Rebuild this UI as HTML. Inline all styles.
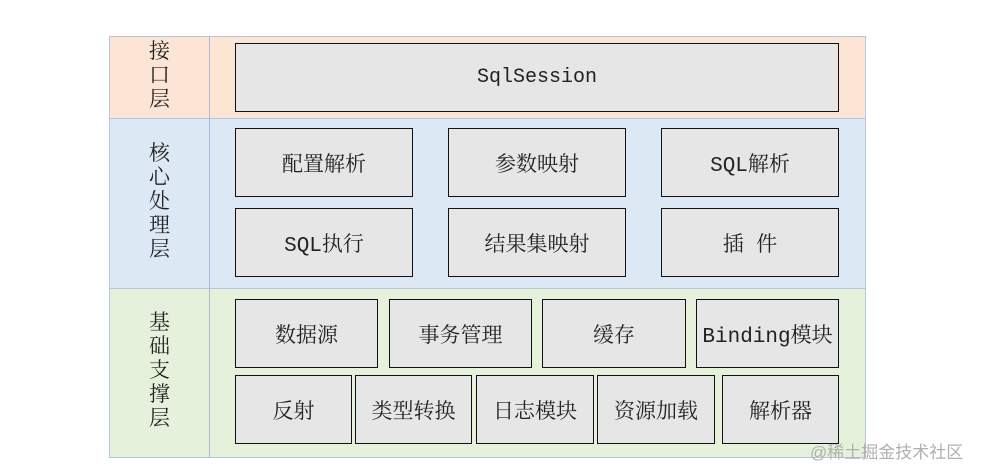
<!DOCTYPE html>
<html><head><meta charset="utf-8"><style>
body{margin:0;width:986px;height:476px;background:#fff;position:relative;overflow:hidden;font-family:"Liberation Mono","Noto Serif CJK SC",monospace;}
div{position:absolute;box-sizing:border-box;}
.b{background:#e6e6e6;border:1.5px solid #111;display:flex;align-items:center;justify-content:center;font-size:21px;color:#222;}
.l{display:flex;align-items:center;justify-content:center;font-size:21px;line-height:24px;color:#222;text-align:center;}
</style></head><body>
<div style="left:109px;top:36px;width:757px;height:83px;background:#fde5d5;border:1px solid #b8c6dc;"></div>
<div style="left:109px;top:118px;width:757px;height:171px;background:#dde8f5;border:1px solid #b8c6dc;"></div>
<div style="left:109px;top:288px;width:757px;height:170px;background:#e6f1dc;border:1px solid #b8c6dc;"></div>
<div style="left:209px;top:36px;width:1px;height:422px;background:#a9bbd8;"></div>
<div class="l" style="left:110px;top:37px;width:99px;height:81px;">接<br>口<br>层</div>
<div class="l" style="left:110px;top:119px;width:99px;height:169px;">核<br>心<br>处<br>理<br>层</div>
<div class="l" style="left:110px;top:289px;width:99px;height:168px;">基<br>础<br>支<br>撑<br>层</div>
<div class="b" style="left:235px;top:43px;width:604px;height:69px;font-size:20px;">SqlSession</div>
<div class="b" style="left:235px;top:128px;width:178px;height:69px;">配置解析</div>
<div class="b" style="left:448px;top:128px;width:178px;height:69px;">参数映射</div>
<div class="b" style="left:661px;top:128px;width:178px;height:69px;">SQL解析</div>
<div class="b" style="left:235px;top:208px;width:178px;height:69px;">SQL执行</div>
<div class="b" style="left:448px;top:208px;width:178px;height:69px;">结果集映射</div>
<div class="b" style="left:661px;top:208px;width:178px;height:69px;">插&nbsp;件</div>
<div class="b" style="left:235px;top:299px;width:143px;height:69px;">数据源</div>
<div class="b" style="left:389px;top:299px;width:143px;height:69px;">事务管理</div>
<div class="b" style="left:542px;top:299px;width:144px;height:69px;">缓存</div>
<div class="b" style="left:696px;top:299px;width:143px;height:69px;">Binding模块</div>
<div class="b" style="left:235px;top:375px;width:117px;height:69px;">反射</div>
<div class="b" style="left:355px;top:375px;width:117px;height:69px;">类型转换</div>
<div class="b" style="left:476px;top:375px;width:118px;height:69px;">日志模块</div>
<div class="b" style="left:597px;top:375px;width:118px;height:69px;">资源加载</div>
<div class="b" style="left:722px;top:375px;width:117px;height:69px;">解析器</div>
<div style="left:810px;top:438px;font-size:17px;color:#b0b0b0;white-space:nowrap;font-family:'Liberation Sans','Noto Sans CJK SC',sans-serif;">@稀土掘金技术社区</div>
</body></html>
